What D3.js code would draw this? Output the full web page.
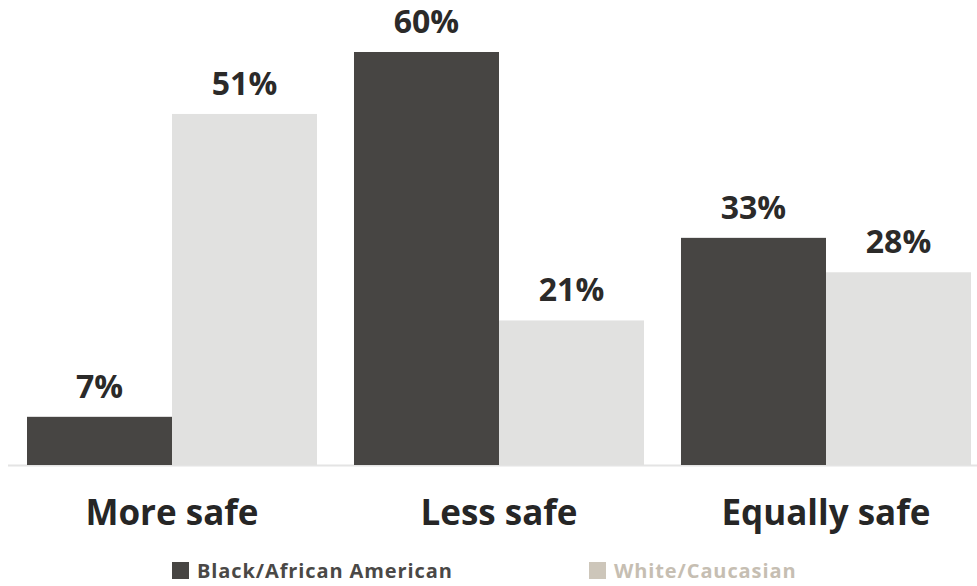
<!DOCTYPE html>
<html><head><meta charset="utf-8">
<script src="https://cdn.jsdelivr.net/npm/d3@7"></script>
<style>
html,body{margin:0;padding:0;background:#fff;}
svg{display:block;}
text{font-family:"Open Sans","Lato",sans-serif;}
</style></head>
<body>
<svg id="chart" width="977" height="586"></svg>
<script>
const categories = ["More safe", "Less safe", "Equally safe"];
const seriesNames = ["Black/African American", "White/Caucasian"];
const blackValues = [7, 60, 33];
const whiteValues = [51, 21, 28];
const valueLabels = [["7%", "51%"], ["60%", "21%"], ["33%", "28%"]];

const barColors = ["#474543", "#e1e1e0"];
const legendSwatch = ["#474543", "#cdc6ba"];
const legendText = ["#4a4846", "#c6beb2"];

const svg = d3.select("#chart");
const baseY = 465;

const x0 = d3.scaleBand().domain(categories).range([27, 971]).paddingInner(0.1131).paddingOuter(0);
const x1 = d3.scaleBand().domain(seriesNames).range([0, x0.bandwidth()]).padding(0);
const y = d3.scaleLinear().domain([0, 60]).range([baseY, 52]);

const rows = categories.map((c, i) => ({cat: c, vals: [blackValues[i], whiteValues[i]], labels: valueLabels[i]}));

// baseline
svg.append("line").attr("x1", 8).attr("x2", 977).attr("y1", baseY + 0.5).attr("y2", baseY + 0.5)
  .attr("stroke", "#e4e4e4").attr("stroke-width", 2);

const g = svg.selectAll("g.grp").data(rows).enter().append("g")
  .attr("class", "grp").attr("transform", d => `translate(${x0(d.cat)},0)`);

g.selectAll("rect").data(d => d.vals.map((v, j) => ({v, s: seriesNames[j], j, label: d.labels[j]})))
  .enter().append("rect")
  .attr("x", d => x1(d.s)).attr("width", x1.bandwidth())
  .attr("y", d => y(d.v)).attr("height", d => baseY - y(d.v))
  .attr("fill", d => barColors[d.j]);

g.selectAll("text.val").data(d => d.vals.map((v, j) => ({v, s: seriesNames[j], j, label: d.labels[j]})))
  .enter().append("text").attr("class", "val")
  .attr("x", d => x1(d.s) + x1.bandwidth() / 2)
  .attr("y", d => y(d.v) - 19)
  .attr("text-anchor", "middle")
  .attr("font-size", 32).attr("font-weight", 700).attr("fill", "#2b2a29")
  .text(d => d.label);

// category labels
svg.selectAll("text.cat").data(categories).enter().append("text").attr("class", "cat")
  .attr("x", d => x0(d) + x0.bandwidth() / 2).attr("y", 525)
  .attr("text-anchor", "middle")
  .attr("font-size", 35).attr("font-weight", 700).attr("fill", "#262626")
  .text(d => d);

// legend
const legX = [172, 589];
const leg = svg.selectAll("g.leg").data(seriesNames).enter().append("g").attr("class", "leg")
  .attr("transform", (d, i) => `translate(${legX[i]},562)`);
leg.append("rect").attr("width", 17).attr("height", 17).attr("fill", (d, i) => legendSwatch[i]);
leg.append("text").attr("x", 25).attr("y", 16).attr("font-size", 20).attr("font-weight", 700)
  .attr("letter-spacing", 0.9)
  .attr("fill", (d, i) => legendText[i]).text(d => d);
</script>
</body></html>
